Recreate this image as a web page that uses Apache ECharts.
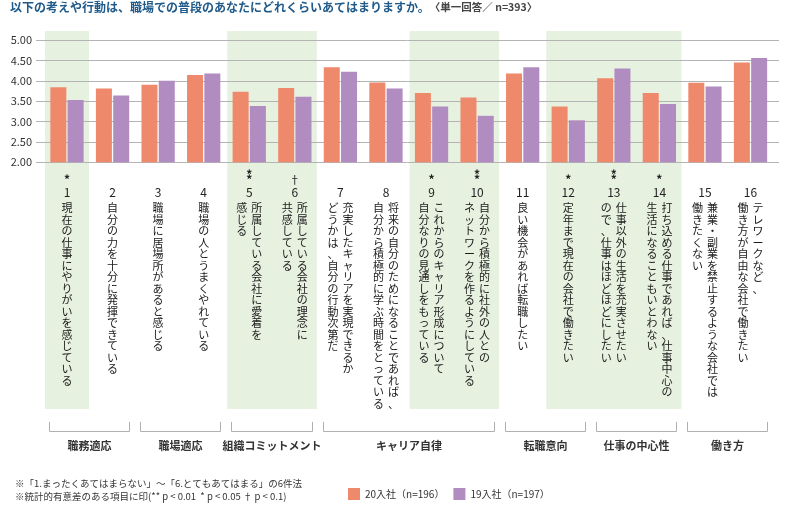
<!DOCTYPE html>
<html>
<head>
<meta charset="utf-8">
<script src="https://cdn.jsdelivr.net/npm/echarts@6/dist/echarts.min.js"></script>
<style>
  html, body { margin: 0; padding: 0; background: #fff; }
  #chart { width: 790px; height: 529px; }
</style>
</head>
<body>
<div id="chart"></div>
<script>
// ---- data ----
const categories = ['1','2','3','4','5','6','7','8','9','10','11','12','13','14','15','16'];
const sigMarks = ['*','','','','**','†','','','*','**','','*','**','*','',''];
const labelCol1 = [
  '現在の仕事にやりがいを感じている',
  '自分の力を十分に発揮できている',
  '職場に居場所があると感じる',
  '職場の人とうまくやれている',
  '所属している会社に愛着を',
  '所属している会社の理念に',
  '充実したキャリアを実現できるか',
  '将来の自分のためになることであれば、',
  'これからのキャリア形成について',
  '自分から積極的に社外の人との',
  '良い機会があれば転職したい',
  '定年まで現在の会社で働きたい',
  '仕事以外の生活を充実させたい',
  '打ち込める仕事であれば、仕事中心の',
  '兼業・副業を禁止するような会社では',
  'テレワークなど、'
];
const labelCol2 = [
  '', '', '', '',
  '感じる',
  '共感している',
  'どうかは、自分の行動次第だ',
  '自分から積極的に学ぶ時間をとっている',
  '自分なりの見通しをもっている',
  'ネットワークを作るようにしている',
  '', '',
  'ので、仕事はほどほどにしたい',
  '生活になることもいとわない',
  '働きたくない',
  '働き方が自由な会社で働きたい'
];
const seriesNames = ['20入社（n=196）', '19入社（n=197）'];
const score20 = [3.84, 3.81, 3.90, 4.14, 3.73, 3.82, 4.33, 3.96, 3.70, 3.59, 4.18, 3.37, 4.06, 3.70, 3.95, 4.45];
const score19 = [3.53, 3.64, 4.00, 4.18, 3.38, 3.61, 4.22, 3.81, 3.37, 3.14, 4.33, 3.03, 4.30, 3.43, 3.86, 4.56];
const groupNames = ['職務適応', '職場適応', '組織コミットメント', 'キャリア自律', '転職意向', '仕事の中心性', '働き方'];
const groupStart = [0, 2, 4, 6, 10, 12, 14];
const groupEnd   = [1, 3, 5, 9, 11, 13, 15];
const bandStart = [0, 4, 8, 11];
const bandEnd   = [0, 5, 9, 13];
const yTicks = { min: 2, max: 5, interval: 0.5 };

const titleMain = '以下の考えや行動は、職場での普段のあなたにどれくらいあてはまりますか。';
const titleSub = '〈単一回答／ n=393〉';
const footnotes = ['※「1.まったくあてはまらない」～「6.とてもあてはまる」の6件法',
                   '※統計的有意差のある項目に印(** p < 0.01  * p < 0.05 † p < 0.1)'];

// ---- chart ----
const FONT = '"Noto Sans CJK JP", "Noto Sans", sans-serif';
const chart = echarts.init(document.getElementById('chart'), null, { renderer: 'canvas' });

function buildLabel(value, index) {
  const m = sigMarks[index];
  let line1 = '{m| }', line2 = '{m| }';
  if (m === '**') { line1 = '{m|*}'; line2 = '{m|*}'; }
  else if (m === '*') { line2 = '{m|*}'; }
  else if (m === '†') { line2 = '{d|†}'; }
  const lines = [line1, line2, '{n|' + categories[index] + '}'];
  const c1 = Array.from(labelCol1[index]);
  const c2 = Array.from(labelCol2[index]);
  const rows = Math.max(c1.length, c2.length);
  for (let i = 0; i < rows; i++) {
    if (c2.length) {
      const a = c2[i] || '　';
      const b = c1[i] || '　';
      lines.push('{t|' + a + '}{t|' + b + '}');
    } else {
      lines.push('{t|' + c1[i] + '}');
    }
  }
  return lines.join('\n');
}

const LEFT = 44.2, RIGHT = 16.7;

const option = {
  animation: false,
  backgroundColor: '#fff',
  textStyle: { fontFamily: FONT },
  title: [
    {
      left: 10, top: 0, padding: 0,
      text: '{a|' + titleMain + '}{b|' + titleSub + '}',
      textStyle: {
        rich: {
          a: { fontSize: 12, fontWeight: 'bold', color: '#1f5a8a', fontFamily: FONT, lineHeight: 14 },
          b: { fontSize: 10.5, color: '#444', fontFamily: FONT, lineHeight: 14 }
        }
      }
    },
    {
      left: 15, top: 477, padding: 0,
      text: footnotes.join('\n'),
      textStyle: { fontSize: 9.5, fontWeight: 'normal', color: '#333', lineHeight: 13, fontFamily: FONT }
    }
  ],
  legend: {
    left: 348, top: 488, padding: 0,
    itemWidth: 12, itemHeight: 12, itemGap: 9,
    icon: 'rect',
    data: seriesNames,
    textStyle: { fontSize: 10, color: '#333', fontFamily: FONT }
  },
  grid: [
    { left: 36, right: 11, top: 40, bottom: 366.7 },          // grid lines + y labels
    { left: LEFT, right: RIGHT, top: 40, bottom: 366.7 },     // bars
    { left: LEFT, right: RIGHT, top: 31, bottom: 120 },       // highlight bands
    { left: LEFT, right: RIGHT, top: 422, bottom: 97 }        // group brackets
  ],
  xAxis: [
    { gridIndex: 0, type: 'value', min: 0, max: 1, show: false },
    {
      gridIndex: 1, type: 'category', data: categories,
      axisLine: { show: false }, axisTick: { show: false },
      axisLabel: {
        interval: 0, margin: 10, color: '#222',
        formatter: buildLabel,
        rich: {
          m: { fontSize: 12, fontWeight: 'bold', lineHeight: 5, align: 'center', color: '#222', fontFamily: FONT },
          d: { fontSize: 11, lineHeight: 5, align: 'center', color: '#222', fontFamily: FONT },
          n: { fontSize: 12, lineHeight: 20, align: 'center', color: '#222', fontFamily: FONT },
          t: { fontSize: 11, lineHeight: 11.5, width: 15, align: 'center', color: '#1a1a1a', fontFamily: FONT }
        }
      }
    },
    { gridIndex: 2, type: 'category', data: categories, show: false },
    { gridIndex: 3, type: 'category', data: categories, show: false }
  ],
  yAxis: [
    {
      gridIndex: 0, type: 'value', min: yTicks.min, max: yTicks.max, interval: yTicks.interval,
      axisLine: { show: false }, axisTick: { show: false },
      axisLabel: { margin: 4, fontSize: 11, color: '#333', formatter: v => v.toFixed(2) },
      splitLine: { show: true, lineStyle: { color: '#b4b4b4', width: 1 } }
    },
    {
      gridIndex: 1, type: 'value', min: yTicks.min, max: yTicks.max, interval: yTicks.interval,
      show: false, splitLine: { show: false }
    },
    { gridIndex: 2, type: 'value', min: 0, max: 1, show: false, splitLine: { show: false } },
    { gridIndex: 3, type: 'value', min: 0, max: 1, show: false, splitLine: { show: false } }
  ],
  series: [
    {
      name: 'bands', type: 'custom', xAxisIndex: 2, yAxisIndex: 2, z: -10, silent: true,
      data: bandStart.map((s, i) => [s, bandEnd[i]]),
      renderItem: function (params, api) {
        const s = api.value(0), e = api.value(1);
        const bw = api.size([1, 0])[0];
        const x0 = api.coord([s, 1])[0] - bw / 2 + 0.8;
        const x1 = api.coord([e, 1])[0] + bw / 2 - 0.8;
        const yT = api.coord([s, 1])[1], yB = api.coord([s, 0])[1];
        return { type: 'rect', shape: { x: x0, y: yT, width: x1 - x0, height: yB - yT }, style: { fill: '#e7f1e0' } };
      }
    },
    {
      name: 'groups', type: 'custom', xAxisIndex: 3, yAxisIndex: 3, silent: true,
      data: groupStart.map((s, i) => [s, groupEnd[i]]),
      renderItem: function (params, api) {
        const s = api.value(0), e = api.value(1);
        const bw = api.size([1, 0])[0];
        const x0 = Math.round(api.coord([s, 1])[0] - bw / 2 + 5) + 0.5;
        const x1 = Math.round(api.coord([e, 1])[0] + bw / 2 - 6) + 0.5;
        const yT = api.coord([s, 1])[1], yB = Math.round(api.coord([s, 0])[1]) - 0.5;
        return {
          type: 'group',
          children: [
            { type: 'polyline', shape: { points: [[x0, yT], [x0, yB], [x1, yB], [x1, yT]] },
              style: { stroke: '#b0b0b0', fill: null, lineWidth: 1 } },
            { type: 'text', style: { text: groupNames[params.dataIndex], x: (x0 + x1) / 2, y: yB + 14,
              align: 'center', verticalAlign: 'middle', fontSize: 11, fontWeight: 'bold',
              fontFamily: FONT, fill: '#333' } }
          ]
        };
      }
    },
    {
      name: seriesNames[0], type: 'bar', xAxisIndex: 1, yAxisIndex: 1,
      data: score20, barWidth: 16, barGap: '8%',
      itemStyle: { color: '#ee896c' }
    },
    {
      name: seriesNames[1], type: 'bar', xAxisIndex: 1, yAxisIndex: 1,
      data: score19, barWidth: 16, barGap: '8%',
      itemStyle: { color: '#b08cc0' }
    }
  ]
};
chart.setOption(option);
</script>
</body>
</html>
